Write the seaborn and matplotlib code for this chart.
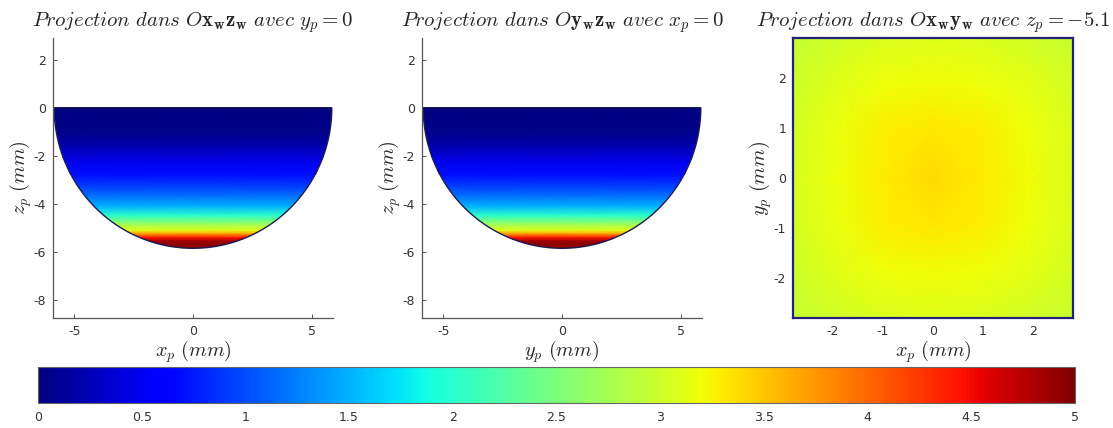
import numpy as np
import matplotlib
matplotlib.use("Agg")
import matplotlib.pyplot as plt
import seaborn as sns
from matplotlib.patches import Polygon
from matplotlib.cm import ScalarMappable
from matplotlib.colors import Normalize

# ---------------- data ----------------
sphere_radius_mm = 5.85
# intensity profile along depth (same in both vertical projections)
depth_mm = [0.0, -1.0, -1.6, -2.2, -2.8, -3.3, -3.7, -4.1, -4.5, -4.85, -5.1, -5.25, -5.4, -5.55, -5.9]
intensity_depth = [0.0, 0.05, 0.2, 0.45, 0.7, 0.95, 1.2, 1.5, 2.05, 2.7, 3.1, 3.7, 4.4, 4.85, 5.0]

# horizontal slice at z_p = -5.1
slice_x_mm = [-2.8, -1.87, -0.93, 0.0, 0.93, 1.87, 2.8]
slice_y_mm = [-2.8, -1.87, -0.93, 0.0, 0.93, 1.87, 2.8]
slice_values = [
    [2.93, 3.02, 3.07, 3.09, 3.07, 3.02, 2.95],
    [3.00, 3.12, 3.19, 3.22, 3.19, 3.13, 3.03],
    [3.04, 3.18, 3.29, 3.33, 3.29, 3.19, 3.07],
    [3.05, 3.20, 3.32, 3.38, 3.32, 3.21, 3.08],
    [3.04, 3.18, 3.29, 3.33, 3.29, 3.19, 3.07],
    [3.00, 3.12, 3.19, 3.22, 3.19, 3.13, 3.03],
    [2.93, 3.02, 3.07, 3.09, 3.07, 3.02, 2.95],
]

titles = [
    r"$\mathit{Projection\ dans\ }O\mathbf{x}_\mathbf{w}\mathbf{z}_\mathbf{w}\mathit{\ avec\ }y_p=0$",
    r"$\mathit{Projection\ dans\ }O\mathbf{y}_\mathbf{w}\mathbf{z}_\mathbf{w}\mathit{\ avec\ }x_p=0$",
    r"$\mathit{Projection\ dans\ }O\mathbf{x}_\mathbf{w}\mathbf{y}_\mathbf{w}\mathit{\ avec\ }z_p=-5.1$",
]
xlabels = [r"$x_p\ (mm)$", r"$y_p\ (mm)$", r"$x_p\ (mm)$"]
ylabels = [r"$z_p\ (mm)$", r"$z_p\ (mm)$", r"$y_p\ (mm)$"]
cbar_ticks = [0, 0.5, 1, 1.5, 2, 2.5, 3, 3.5, 4, 4.5, 5]

# ---------------- style ----------------
sns.set_theme(style="white")
plt.rcParams["font.family"] = ["DejaVu Sans"]
plt.rcParams["mathtext.fontset"] = "cm"
plt.rcParams["axes.unicode_minus"] = False

cmap = plt.get_cmap("jet")
norm = Normalize(vmin=0, vmax=5)
tick_color = "#333333"

fig = plt.figure(figsize=(11.13, 4.28), dpi=100)
W, H = 1113.0, 428.0

def ax_rect(x0, y0, x1, y1):
    return [x0 / W, 1 - y1 / H, (x1 - x0) / W, (y1 - y0) / H]

ax1 = fig.add_axes(ax_rect(53, 38, 333, 318))
ax2 = fig.add_axes(ax_rect(422, 38, 702, 318))
ax3 = fig.add_axes(ax_rect(793, 38, 1073, 318))
cax = fig.add_axes(ax_rect(38, 367, 1075, 403))

R = sphere_radius_mm
theta = np.linspace(np.pi, 2 * np.pi, 200)
arc = np.column_stack([R * np.cos(theta), R * np.sin(theta)])

for i, ax in enumerate([ax1, ax2]):
    X, Y = np.meshgrid([-R, 0.0, R], depth_mm)
    C = np.tile(np.array(intensity_depth)[:, None], (1, 3))
    mesh = ax.pcolormesh(X, Y, C, cmap=cmap, norm=norm, shading="gouraud")
    clip = Polygon(arc, closed=True, transform=ax.transData, facecolor="none",
                   edgecolor="none")
    mesh.set_clip_path(clip)
    ax.add_patch(Polygon(arc, closed=True, facecolor="none",
                         edgecolor="#1b1b55", lw=1.0))
    ax.set_xlim(-5.9, 5.9)
    ax.set_ylim(-8.75, 2.9)
    ax.set_xticks([-5, 0, 5])
    ax.set_yticks([-8, -6, -4, -2, 0, 2])
    for s in ["top", "right"]:
        ax.spines[s].set_visible(False)
    for s in ["left", "bottom"]:
        ax.spines[s].set_color("#555555")
        ax.spines[s].set_linewidth(0.9)

# horizontal slice
ax3.pcolormesh(slice_x_mm, slice_y_mm, np.array(slice_values), cmap=cmap, norm=norm,
               shading="gouraud")
ax3.set_xlim(-2.8, 2.8)
ax3.set_ylim(-2.8, 2.8)
ax3.set_xticks([-2, -1, 0, 1, 2])
ax3.set_yticks([-2, -1, 0, 1, 2])
for s in ax3.spines.values():
    s.set_visible(True)
    s.set_color("#22227a")
    s.set_linewidth(1.6)

for i, ax in enumerate([ax1, ax2, ax3]):
    ax.set_title(titles[i], fontsize=15, pad=8)
    ax.set_xlabel(xlabels[i], fontsize=14.5, labelpad=0)
    ax.set_ylabel(ylabels[i], fontsize=14.5, labelpad=0)
    ax.tick_params(direction="in", length=3, width=0.6, labelsize=9,
                   colors=tick_color, left=True, bottom=True, pad=5)
    ax.set_facecolor("white")

# colorbar
cb = fig.colorbar(ScalarMappable(norm=norm, cmap=cmap), cax=cax, orientation="horizontal")
cb.set_ticks(cbar_ticks)
cb.set_ticklabels([f"{t:g}" for t in cbar_ticks])
cb.ax.tick_params(direction="in", length=4, width=0.6, labelsize=9, colors=tick_color, pad=6)
cb.outline.set_edgecolor("#666666")
cb.outline.set_linewidth(0.8)

fig.savefig("out.png", dpi=100, facecolor="white")
